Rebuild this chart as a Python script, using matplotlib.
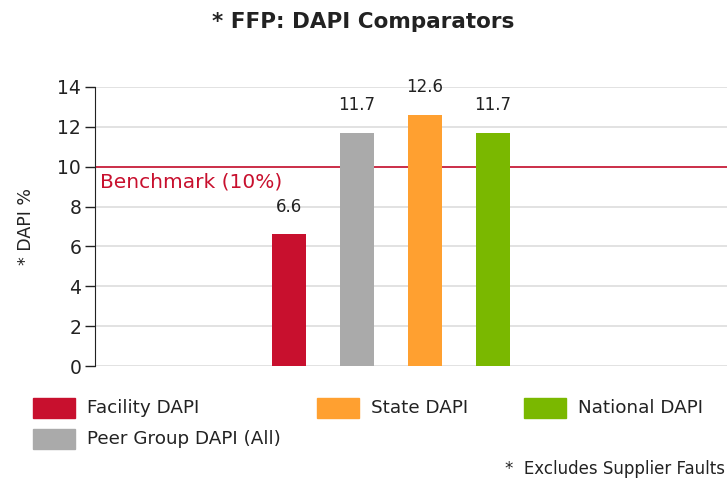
import numpy as np
import matplotlib.pyplot as plt
from matplotlib.patches import Rectangle

categories = ['Facility DAPI', 'Peer Group DAPI (All)', 'State DAPI', 'National DAPI']
values = [6.6, 11.7, 12.6, 11.7]
colors = ['#C8102E', '#AAAAAA', '#FFA030', '#7AB800']
benchmark = 10
yticks = [0, 2, 4, 6, 8, 10, 12, 14]

fig = plt.figure(figsize=(7.27, 4.8), dpi=100)
ax = fig.add_axes([0.1307, 0.2375, 0.8693, 0.5813])

x = np.arange(len(values))
ax.bar(x, values, width=0.5, color=colors, zorder=3)
for xi, v in zip(x, values):
    ax.text(xi, v + 1.4, f'{v:.1f}', ha='center', va='center', fontsize=12, color='#222222')

ax.axhline(benchmark, color='#C8102E', lw=1.2, zorder=2)
ax.text(-2.78, benchmark - 0.3, 'Benchmark (10%)', color='#C8102E', fontsize=14.5,
        ha='left', va='top')

ax.set_xlim(-2.85, 6.44)
ax.set_ylim(0, 14)
ax.set_yticks(yticks)
ax.set_yticklabels([str(t) for t in yticks], fontsize=13.5, color='#222222')
ax.set_xticks([])
ax.yaxis.grid(True, color='#DDDDDD', lw=1.2, zorder=0)
ax.tick_params(axis='y', length=7, width=1, color='#222222', pad=3)
for s in ['top', 'right', 'bottom']:
    ax.spines[s].set_visible(False)
ax.spines['left'].set_color('#222222')
ax.set_ylabel('* DAPI %', fontsize=12.5, color='#222222', labelpad=16)

fig.text(0.5, 1 - 22 / 480, '* FFP: DAPI Comparators', ha='center', va='center',
         fontsize=15.5, fontweight='bold', color='#222222')

# legend drawn as figure-level swatches
W, H = 727, 480
legend_pos = [(33, 398), (33, 429), (317, 398), (524, 398)]
for (px, py), lab, col in zip(legend_pos, categories, colors):
    fig.patches.append(Rectangle((px / W, 1 - (py + 20) / H), 42 / W, 20 / H,
                                 transform=fig.transFigure, color=col))
    fig.text((px + 54) / W, 1 - (py + 10) / H, lab, ha='left', va='center',
             fontsize=13.2, color='#222222')

fig.text(1 - 2 / W, 2 / H, '*  Excludes Supplier Faults', ha='right', va='bottom',
         fontsize=12, color='#222222')

fig.savefig('out.png', dpi=100)
